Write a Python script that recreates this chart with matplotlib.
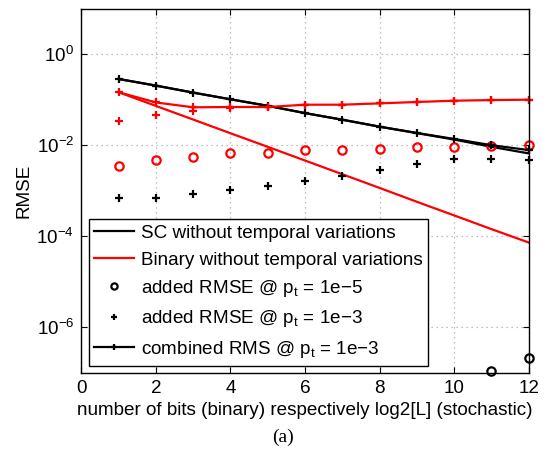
import numpy as np
import matplotlib
matplotlib.use("Agg")
import matplotlib.pyplot as plt
from matplotlib.ticker import FixedLocator, LogFormatterMathtext, NullLocator

plt.rcParams['font.family'] = ['Liberation Sans', 'DejaVu Sans']
plt.rcParams['mathtext.fontset'] = 'custom'
plt.rcParams['mathtext.rm'] = 'Liberation Sans'
plt.rcParams['mathtext.it'] = 'Liberation Sans'
plt.rcParams['mathtext.bf'] = 'Liberation Sans:bold'

bits = [1, 2, 3, 4, 5, 6, 7, 8, 9, 10, 11, 12]
sc_plain = [0.285, 0.204, 0.143, 0.102, 0.0733, 0.0507, 0.0363, 0.0255, 0.0184, 0.0133, 0.0092, 0.0066]
sc_combined = [0.285, 0.204, 0.143, 0.102, 0.0733, 0.0507, 0.0363, 0.0255, 0.0186, 0.0137, 0.0100, 0.0078]
bin_plain = [0.146, 0.073, 0.0366, 0.0183, 0.0092, 0.0046, 0.0023, 0.00115, 0.00057, 0.000286, 0.000143, 0.0000725]
bin_combined = [0.146, 0.087, 0.068, 0.069, 0.069, 0.0776, 0.0776, 0.083, 0.089, 0.095, 0.098, 0.100]
bin_added_1e3 = [0.0334, 0.047, 0.055, 0.067, 0.068, 0.077, 0.077, 0.083, 0.089, 0.095, 0.098, 0.100]
bin_added_1e5 = [0.00343, 0.00471, 0.00556, 0.00668, 0.00681, 0.00766, 0.00766, 0.00832, 0.00891, 0.00933, 0.00955, 0.01035]
sc_added_1e3 = [0.000708, 0.000708, 0.00084, 0.00102, 0.00127, 0.00164, 0.00214, 0.00285, 0.00385, 0.0050, 0.0049, 0.00462]
sc_added_1e5 = [np.nan, np.nan, np.nan, np.nan, np.nan, np.nan, np.nan, np.nan, np.nan, np.nan, 1.07e-7, 2.1e-7]

xticks = [0, 2, 4, 6, 8, 10, 12]
yticks = [1e-6, 1e-4, 1e-2, 1e0]

fig = plt.figure(figsize=(5.47, 4.57), dpi=100)
ax = fig.add_axes([0.1486, 0.1845, 0.8180, 0.7965])

lw = 1.6
red = '#ff0000'
fs = 13.6

l_sc, = ax.plot(bits, sc_plain, '-', color='k', lw=lw, label='SC without temporal variations')
l_bin, = ax.plot(bits, bin_plain, '-', color=red, lw=lw, label='Binary without temporal variations')

m_o, = ax.plot(bits, sc_added_1e5, 'o', color='k', mfc='none', ms=6, mew=1.6, ls='none',
               clip_on=False, label=r'added RMSE @ $p_t$ = 1e$-$5')
ax.plot(bits, bin_added_1e5, 'o', color=red, mfc='none', ms=6, mew=1.6, ls='none', clip_on=False)

m_p, = ax.plot(bits, sc_added_1e3, '+', color='k', ms=6, mew=1.6, ls='none',
               clip_on=False, label=r'added RMSE @ $p_t$ = 1e$-$3')
ax.plot(bits, bin_added_1e3, '+', color=red, ms=6, mew=1.6, ls='none', clip_on=False)

l_c, = ax.plot(bits, sc_combined, '-+', color='k', lw=lw, ms=6, mew=1.6,
               clip_on=False, label=r'combined RMS @ $p_t$ = 1e$-$3')
ax.plot(bits, bin_combined, '-+', color=red, lw=lw, ms=6, mew=1.6, clip_on=False)

ax.set_yscale('log')
ax.set_xlim(0, 12)
ax.set_ylim(1e-7, 1e1)
ax.xaxis.set_major_locator(FixedLocator(xticks))
ax.yaxis.set_major_locator(FixedLocator(yticks))
ax.yaxis.set_major_formatter(LogFormatterMathtext())
ax.yaxis.set_minor_locator(NullLocator())

ax.tick_params(direction='in', which='both', top=True, right=True, length=4, width=0.8,
               labelsize=fs, pad=5)
ax.grid(True, which='major', color='#aaaaaa', lw=0.9, dashes=(1, 3))
for s in ax.spines.values():
    s.set_linewidth(1.0)

ax.set_xlabel('number of bits (binary) respectively log2[L] (stochastic)', fontsize=fs, labelpad=4)
ax.set_ylabel('RMSE', fontsize=fs)
ax.yaxis.set_label_coords(-0.108, 0.5)

leg = ax.legend(handles=[l_sc, l_bin, m_o, m_p, l_c], loc='lower left',
                bbox_to_anchor=(0.004, 0.004), fontsize=fs, frameon=True, fancybox=False,
                edgecolor='k', framealpha=1, handlelength=2.1, handletextpad=0.35,
                borderpad=0.3, labelspacing=0.5, markerscale=0.75, borderaxespad=0.3)
leg.get_frame().set_linewidth(1.0)

fig.text(0.517, 0.044, '(a)', fontsize=14, family='Liberation Serif', ha='center', va='center')

fig.savefig('out.png', dpi=100)
